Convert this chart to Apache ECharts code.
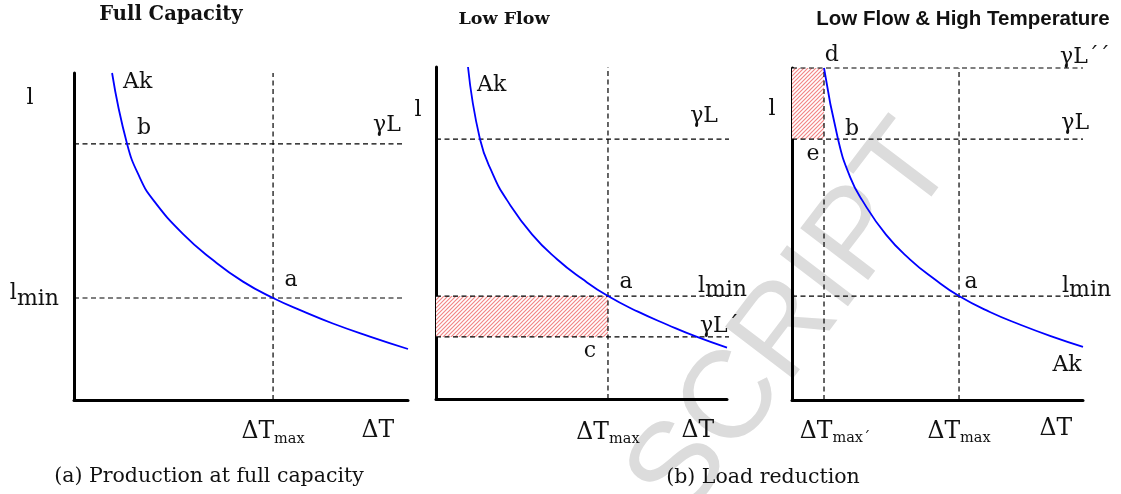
<!DOCTYPE html>
<html>
<head>
<meta charset="utf-8">
<script src="https://cdn.jsdelivr.net/npm/echarts@6/dist/echarts.min.js"></script>
<style>
  html, body { margin: 0; padding: 0; background: #ffffff; }
  #chart { width: 1121px; height: 494px; }
</style>
</head>
<body>
<div id="chart"></div>
<script>
// Ak curves, one per panel, as [ΔT, l] points on 0–100 scales
const curveFull = [[11.4, 100], [15.9, 78.3], [19.8, 67.8], [23.7, 61.2], [32.6, 50.8], [41.6, 42.8],
                   [50.6, 36.2], [59.6, 31.2], [68.6, 27.1], [77.5, 23.4], [88.6, 19.4], [100, 15.6]];
const curveLow  = [[11.0, 100], [15.1, 78.3], [19.6, 67.6], [24.4, 59.9], [33.0, 49.6], [41.6, 42.1],
                   [50.2, 36.2], [59.1, 31.0], [69.4, 26.3], [79.7, 22.3], [89.7, 18.7], [100, 15.5]];
const curveHot  = [[11.0, 100], [15.8, 78.6], [19.9, 67.3], [24.1, 60.2], [32.3, 49.8], [40.6, 42.3],
                   [48.8, 36.5], [57.4, 31.3], [68.0, 26.5], [78.7, 22.6], [89.4, 19.1], [100, 16.0]];

// reference levels, one entry per panel
const dTmax  = [59.6, 59.1, 57.4];   // ΔT_max
const gammaL = [78.3, 78.3, 78.6];   // γL
const lMin   = [31.2, 31.0, 31.3];   // l_min
const dTmaxReduced  = 11.0;          // ΔT_max´ (third panel)
const gammaLReduced = 18.7;          // γL´ (second panel)
const gammaLRaised  = 100;           // γL´´ (third panel)

const panelTitles = ['Full Capacity', 'Low Flow', 'Low Flow & High Temperature'];
const captions = ['(a) Production at full capacity', '(b) Load reduction'];

const SERIF = 'DejaVu Serif';
const SANS = 'Liberation Sans';
const INK = '#111111';

const grids = [
  { left: 74,  top: 73, width: 334, height: 327 },
  { left: 436, top: 67, width: 291, height: 332 },
  { left: 792, top: 68, width: 291, height: 332 }
];

// diagonal red hatch used for the lost-output rectangles
function hatchPattern() {
  const c = document.createElement('canvas');
  c.width = 4; c.height = 4;
  const g = c.getContext('2d');
  g.fillStyle = '#ffffff';
  g.fillRect(0, 0, 4, 4);
  g.strokeStyle = '#f28585';
  g.lineWidth = 1.15;
  g.beginPath();
  g.moveTo(-1, 1); g.lineTo(1, -1);
  g.moveTo(0, 4);  g.lineTo(4, 0);
  g.moveTo(3, 5);  g.lineTo(5, 3);
  g.stroke();
  return { image: c, repeat: 'repeat' };
}
const hatch = hatchPattern();

function axisPair(i) {
  const common = {
    type: 'value', min: 0, max: 100, gridIndex: i,
    axisLine: { show: true, onZero: false, lineStyle: { color: '#000', width: 3 } },
    axisTick: { show: false }, axisLabel: { show: false }, splitLine: { show: false }
  };
  return [Object.assign({}, common), Object.assign({}, common)];
}

const xAxes = [], yAxes = [];
grids.forEach((g, i) => { const [x, y] = axisPair(i); xAxes.push(x); yAxes.push(y); });

function dashed(i, pts) {
  return {
    type: 'line', xAxisIndex: i, yAxisIndex: i, data: pts, showSymbol: false, silent: true,
    clip: false, z: 3,
    lineStyle: { color: '#000', width: 1.2, type: [5, 3.5] }
  };
}

function curve(i, data, area) {
  const s = {
    type: 'line', xAxisIndex: i, yAxisIndex: i, data: data, smooth: 0.5,
    showSymbol: false, silent: true, z: 4,
    lineStyle: { color: '#0000ff', width: 1.8 }
  };
  if (area) {
    s.markArea = { silent: true, itemStyle: { color: hatch }, data: [area] };
  }
  return s;
}

const series = [
  curve(0, curveFull),
  curve(1, curveLow, [{ coord: [0, gammaLReduced] }, { coord: [dTmax[1], lMin[1]] }]),
  curve(2, curveHot, [{ coord: [0, gammaL[2]] }, { coord: [dTmaxReduced, gammaLRaised] }]),

  dashed(0, [[dTmax[0], 0], [dTmax[0], 100]]),
  dashed(0, [[0, gammaL[0]], [99, gammaL[0]]]),
  dashed(0, [[0, lMin[0]], [99, lMin[0]]]),

  dashed(1, [[dTmax[1], 0], [dTmax[1], 100]]),
  dashed(1, [[0, gammaL[1]], [100.7, gammaL[1]]]),
  dashed(1, [[0, lMin[1]], [100.7, lMin[1]]]),
  dashed(1, [[0, gammaLReduced], [100.7, gammaLReduced]]),

  dashed(2, [[dTmaxReduced, 0], [dTmaxReduced, 100]]),
  dashed(2, [[dTmax[2], 0], [dTmax[2], 100]]),
  dashed(2, [[0, gammaLRaised], [100, gammaLRaised]]),
  dashed(2, [[0, gammaL[2]], [100, gammaL[2]]]),
  dashed(2, [[0, lMin[2]], [100, lMin[2]]])
];

const chart = echarts.init(document.getElementById('chart'), null, { renderer: 'canvas' });
chart.setOption({
  animation: false,
  backgroundColor: '#ffffff',
  grid: grids,
  xAxis: xAxes,
  yAxis: yAxes,
  series: series
});

// text styles for the annotations
function plainStyle(text, align, size) {
  return { text: text, fontFamily: SERIF, fontSize: size || 22, fill: INK, align: align || 'center', verticalAlign: 'middle' };
}
function minStyle(shift) {
  return {
    text: '{l|l}{s|min}', align: 'left', verticalAlign: 'middle', fill: INK,
    rich: {
      l: { fontFamily: SERIF, fontSize: 22, fill: INK, verticalAlign: 'top' },
      s: { fontFamily: SERIF, fontSize: 22, fill: INK, verticalAlign: 'bottom', lineHeight: 22 + shift }
    }
  };
}
function deltaStyle(sub) {
  return {
    text: '{m|ΔT}{s|' + sub + '}', align: 'center', verticalAlign: 'middle', fill: INK,
    rich: {
      m: { fontFamily: SERIF, fontSize: 23.5, fill: INK, verticalAlign: 'top' },
      s: { fontFamily: SERIF, fontSize: 14.5, fill: INK, verticalAlign: 'bottom', lineHeight: 26 }
    }
  };
}

// [panel, x, y, style]
const notes = [
  [0, 14.7, 97.2, plainStyle('Ak', 'left')],
  [0, -13.2, 92.4, plainStyle('l')],
  [0, 21.0, 83.2, plainStyle('b')],
  [0, 93.7, 84.1, plainStyle('γL')],
  [0, dTmax[0] + 5.4, lMin[0] + 5.3, plainStyle('a')],
  [0, -19.2, 31.8, minStyle(6)],
  [0, dTmax[0], -10.2, deltaStyle('max')],
  [0, 91.0, -9.5, plainStyle('ΔT', 'center', 23.5)],

  [1, -6.2, 87.0, plainStyle('l')],
  [1, 14.1, 94.6, plainStyle('Ak', 'left')],
  [1, 92.1, 85.2, plainStyle('γL')],
  [1, dTmax[1] + 6.2, lMin[1] + 4.3, plainStyle('a')],
  [1, 90.0, 33.3, minStyle(4)],
  [1, 90.7, 22.0, plainStyle('γL´', 'left')],
  [1, 52.9, 14.3, plainStyle('c')],
  [1, dTmax[1], -10.4, deltaStyle('max')],
  [1, 90.0, -9.6, plainStyle('ΔT', 'center', 23.5)],

  [2, 13.7, 103.9, plainStyle('d')],
  [2, 92.1, 103.3, plainStyle('γL´´', 'left')],
  [2, -6.9, 87.7, plainStyle('l')],
  [2, 20.6, 81.6, plainStyle('b')],
  [2, 97.3, 83.4, plainStyle('γL')],
  [2, 7.2, 74.0, plainStyle('e')],
  [2, dTmax[2] + 4.1, lMin[2] + 4.3, plainStyle('a')],
  [2, 92.8, 33.7, minStyle(4)],
  [2, 94.5, 10.5, plainStyle('Ak')],
  [2, dTmaxReduced + 3.8, -9.8, deltaStyle('max´')],
  [2, dTmax[2], -9.8, deltaStyle('max')],
  [2, 90.7, -8.7, plainStyle('ΔT', 'center', 23.5)]
];

const graphics = [
  {
    type: 'text', x: 793, y: 322, rotation: 0.92, z: -10, silent: true,
    style: { text: 'SCRIPT', fontFamily: SANS, fontSize: 124, fill: '#dcdcdc', align: 'center', verticalAlign: 'middle' }
  },
  { type: 'text', x: 171, y: 15, style: { text: panelTitles[0], fontFamily: SERIF, fontWeight: 'bold', fontSize: 19.5, fill: INK, align: 'center', verticalAlign: 'middle' } },
  { type: 'text', x: 504, y: 19, style: { text: panelTitles[1], fontFamily: SERIF, fontWeight: 'bold', fontSize: 17.5, fill: INK, align: 'center', verticalAlign: 'middle' } },
  { type: 'text', x: 963, y: 19, style: { text: panelTitles[2], fontFamily: SANS, fontWeight: 'bold', fontSize: 20.5, fill: INK, align: 'center', verticalAlign: 'middle' } },
  { type: 'text', x: 209, y: 477, style: plainStyle(captions[0], 'center', 20.5) },
  { type: 'text', x: 763, y: 478, style: plainStyle(captions[1], 'center', 20.5) }
];

notes.forEach(([panel, x, y, style]) => {
  const p = chart.convertToPixel({ xAxisIndex: panel, yAxisIndex: panel }, [x, y]);
  graphics.push({ type: 'text', x: p[0], y: p[1], z: 10, silent: true, style: style });
});

chart.setOption({ graphic: graphics });
</script>
</body>
</html>
